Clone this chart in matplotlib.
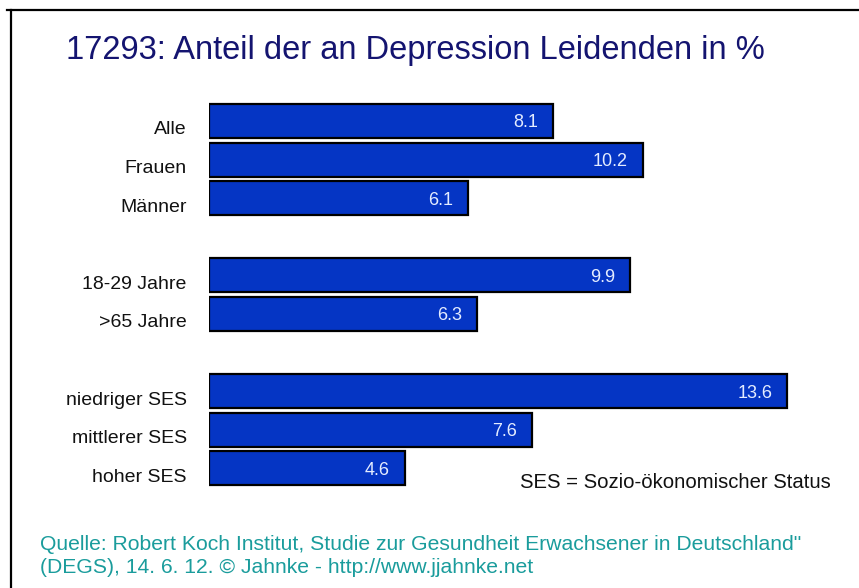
import matplotlib
matplotlib.use("Agg")
import matplotlib.pyplot as plt
import matplotlib.transforms as mtransforms
from matplotlib.lines import Line2D

plt.rcParams['font.family'] = ['Liberation Sans', 'DejaVu Sans']

# data (groups are separated by an empty row)
groups = [
    ["Alle", "Frauen", "Männer"],
    ["18-29 Jahre", ">65 Jahre"],
    ["niedriger SES", "mittlerer SES", "hoher SES"],
]
values = [8.1, 10.2, 6.1, 9.9, 6.3, 13.6, 7.6, 4.6]

title = "17293: Anteil der an Depression Leidenden in %"
note = "SES = Sozio-ökonomischer Status"
source_lines = ["Quelle: Robert Koch Institut, Studie zur Gesundheit Erwachsener in Deutschland\"",
                "(DEGS), 14. 6. 12. \u00a9 Jahnke - http://www.jjahnke.net"]

labels = []
slots = []
pos = 0
for g in groups:
    for name in g:
        labels.append(name)
        slots.append(pos)
        pos += 1
    pos += 1  # gap between groups

W, H = 859, 588
fig = plt.figure(figsize=(W / 100, H / 100), dpi=100)
fig.patch.set_facecolor("white")

# frame lines (top and left only)
fig.add_artist(Line2D([7 / W, 1], [1 - 9.5 / H, 1 - 9.5 / H], color="black", lw=1.6,
                      transform=fig.transFigure))
fig.add_artist(Line2D([10.5 / W, 10.5 / W], [0, 1 - 9.5 / H], color="black", lw=1.6,
                      transform=fig.transFigure))

px_per_unit = 42.5
ax_left, ax_right = 209, 850
top, bottom = 101.75, 487.75
ax = fig.add_axes([ax_left / W, 1 - bottom / H, (ax_right - ax_left) / W, (bottom - top) / H])
ax.set_xlim(0, (ax_right - ax_left) / px_per_unit)
ax.set_ylim(slots[-1] + 0.5, -0.5)

ax.barh(slots, values, height=0.88, color="#0535C4", edgecolor="black", linewidth=1.6)
for s, v in zip(slots, values):
    ax.text(v - 0.35, s + 0.05, f"{v:.1f}", ha="right", va="center",
            color="#E4ECFF", fontsize=13)

ax.set_yticks(slots)
ax.set_yticklabels(labels, fontsize=14, color="#111111")
ax.tick_params(axis="y", length=0, pad=16)
offset = mtransforms.ScaledTranslation(0, -5 / 72, fig.dpi_scale_trans)
for t in ax.get_yticklabels():
    t.set_transform(t.get_transform() + offset)
ax.set_xticks([])
for sp in ax.spines.values():
    sp.set_visible(False)

fig.text(415 / W, 1 - 50 / H, title, ha="center", va="center", fontsize=23.5, color="#141470")
fig.text(520 / W, 1 - 482 / H, note, ha="left", va="center", fontsize=14.6, color="#111111")
for i, line in enumerate(source_lines):
    fig.text(40 / W, 1 - (550 + 23 * i) / H, line, ha="left", va="baseline",
             fontsize=15.2, color="#1A9C9C")

fig.savefig("out.png", dpi=100)
